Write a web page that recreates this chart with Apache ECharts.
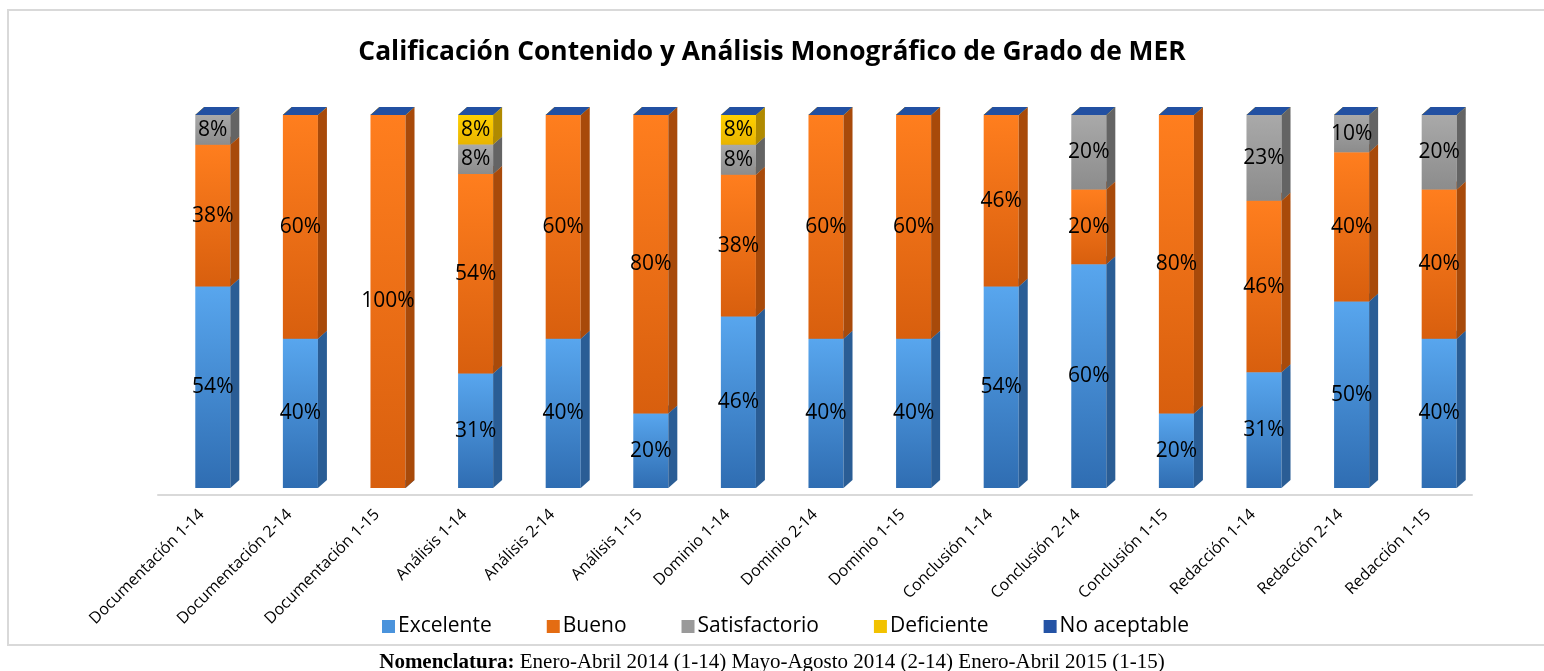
<!DOCTYPE html>
<html>
<head>
<meta charset="utf-8">
<script src="https://cdn.jsdelivr.net/npm/echarts@6/dist/echarts.min.js"></script>
<style>
  html, body { margin: 0; padding: 0; background: #fff; }
  #chart { width: 1544px; height: 671px; }
</style>
</head>
<body>
<div id="chart"></div>
<script>
// categorias (periodo 1-14, 2-14, 1-15)
const categories = [
  'Documentación 1-14', 'Documentación 2-14', 'Documentación 1-15',
  'Análisis 1-14', 'Análisis 2-14', 'Análisis 1-15',
  'Dominio 1-14', 'Dominio 2-14', 'Dominio 1-15',
  'Conclusión 1-14', 'Conclusión 2-14', 'Conclusión 1-15',
  'Redacción 1-14', 'Redacción 2-14', 'Redacción 1-15'
];

// porcentajes por calificacion
const excelente     = [54, 40, 0, 31, 40, 20, 46, 40, 40, 54, 60, 20, 31, 50, 40];
const bueno         = [38, 60, 100, 54, 60, 80, 38, 60, 60, 46, 20, 80, 46, 40, 40];
const satisfactorio = [8, 0, 0, 8, 0, 0, 8, 0, 0, 0, 20, 0, 23, 10, 20];
const deficiente    = [0, 0, 0, 8, 0, 0, 8, 0, 0, 0, 0, 0, 0, 0, 0];
const noAceptable   = [0, 0, 0, 0, 0, 0, 0, 0, 0, 0, 0, 0, 0, 0, 0];

const seriesNames = ['Excelente', 'Bueno', 'Satisfactorio', 'Deficiente', 'No aceptable'];
const seriesValues = [excelente, bueno, satisfactorio, deficiente, noAceptable];

// colores de cada cara (frente claro/oscuro, lado, tapa)
const palette = [
  { light: '#58a6ee', dark: '#2f6db2', side: '#2a5d95', top: '#3b7cc2', legend: '#4a93dc' },
  { light: '#ff7e1e', dark: '#d85f0e', side: '#a84a0a', top: '#e0660f', legend: '#e46c12' },
  { light: '#a9a9a9', dark: '#8c8c8c', side: '#646464', top: '#8a8a8a', legend: '#9a9a9a' },
  { light: '#ffd000', dark: '#e8b400', side: '#b08a00', top: '#d9a800', legend: '#f2c200' },
  { light: '#2a5cad', dark: '#1f4b92', side: '#1a3f7c', top: '#2250a2', legend: '#2453a5' }
];

const FONT = 'Open Sans';

// totales por categoria (columnas al 100%)
const totals = categories.map((c, i) =>
  seriesValues.reduce((s, arr) => s + arr[i], 0));

function buildData(s) {
  return categories.map((c, i) => {
    let before = 0;
    for (let k = 0; k < s; k++) before += seriesValues[k][i];
    const start = before / totals[i] * 100;
    const end = (before + seriesValues[s][i]) / totals[i] * 100;
    return [i, start, end, seriesValues[s][i]];
  });
}

// barra 3D: frente + lado + tapa
function makeRender(s) {
  const col = palette[s];
  return function (params, api) {
    const i = api.value(0);
    const p0 = api.coord([i, api.value(1)]);
    const p1 = api.coord([i, api.value(2)]);
    const raw = api.value(3);
    const band = api.size([1, 0])[0];
    const w = band * 0.4;
    const ox = 11, oy = -7;   // frente desplazado respecto al piso
    const dx = 9, dy = -8;    // profundidad
    const x0 = p0[0] - w / 2 + ox;
    const yb = p0[1] + oy;
    const yt = p1[1] + oy;
    const children = [];
    if (yb - yt > 0.1) {
      children.push({
        type: 'rect',
        shape: { x: x0, y: yt, width: w, height: yb - yt },
        style: {
          fill: new echarts.graphic.LinearGradient(0, 0, 0, 1, [
            { offset: 0, color: col.light },
            { offset: 1, color: col.dark }
          ])
        }
      });
      children.push({
        type: 'polygon',
        shape: { points: [[x0 + w, yb], [x0 + w + dx, yb + dy], [x0 + w + dx, yt + dy], [x0 + w, yt]] },
        style: { fill: col.side }
      });
    }
    children.push({
      type: 'polygon',
      shape: { points: [[x0, yt], [x0 + w, yt], [x0 + w + dx, yt + dy], [x0 + dx, yt + dy]] },
      style: { fill: col.top }
    });
    if (raw > 0) {
      children.push({
        type: 'text',
        z2: 10,
        style: {
          x: x0 + w / 2,
          y: (yt + yb) / 2,
          text: raw + '%',
          align: 'center',
          verticalAlign: 'middle',
          fill: '#000',
          font: '21px "' + FONT + '"'
        }
      });
    }
    return { type: 'group', children: children };
  };
}

const chart = echarts.init(document.getElementById('chart'));

const option = {
  animation: false,
  backgroundColor: '#fff',
  title: [
    {
      text: 'Calificación Contenido y Análisis Monográfico de Grado de MER',
      left: 'center',
      top: 34,
      textStyle: { fontFamily: FONT, fontSize: 26.4, fontWeight: 'bold', color: '#000' }
    },
    {
      text: '{b|Nomenclatura:} Enero-Abril 2014 (1-14) Mayo-Agosto 2014 (2-14) Enero-Abril 2015 (1-15)',
      left: 'center',
      top: 647,
      textStyle: {
        fontFamily: 'Liberation Serif', fontSize: 21, fontWeight: 'normal', color: '#000',
        rich: { b: { fontFamily: 'Liberation Serif', fontSize: 21, fontWeight: 'bold', color: '#000' } }
      }
    }
  ],
  graphic: [
    {
      type: 'rect',
      shape: { x: 8, y: 10, width: 1545, height: 635 },
      style: { fill: 'none', stroke: '#d9d9d9', lineWidth: 2 },
      silent: true
    }
  ],
  legend: {
    left: 377,
    top: 611,
    icon: 'rect',
    itemWidth: 13,
    itemHeight: 13,
    itemGap: 55,
    textStyle: { fontFamily: FONT, fontSize: 21, color: '#000', padding: [0, 0, 0, -2] },
    data: seriesNames
  },
  grid: { left: 158, right: 72, top: 122, bottom: 176 },
  xAxis: {
    type: 'category',
    data: categories,
    axisLine: { lineStyle: { color: '#d9d9d9', width: 2 } },
    axisTick: { show: false },
    axisLabel: {
      interval: 0,
      rotate: 45,
      margin: 17,
      fontFamily: FONT,
      fontSize: 16,
      color: '#000'
    }
  },
  yAxis: { type: 'value', min: 0, max: 100, show: false },
  series: seriesNames.map((name, s) => ({
    name: name,
    type: 'custom',
    renderItem: makeRender(s),
    itemStyle: { color: palette[s].legend },
    encode: { x: 0, y: [1, 2] },
    data: buildData(s)
  }))
};

chart.setOption(option);
</script>
</body>
</html>
